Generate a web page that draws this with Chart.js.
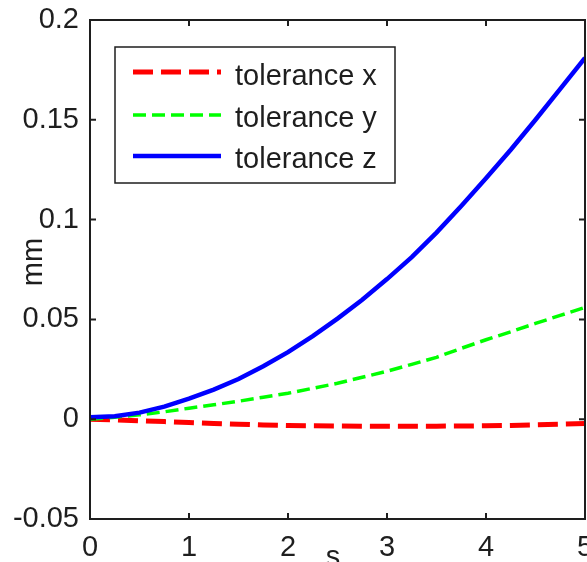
<!DOCTYPE html>
<html lang="en">
<head>
  <meta charset="UTF-8">
  <title>Tolerance</title>
  <script src="https://cdn.jsdelivr.net/npm/chart.js"></script>
  <style>
    html, body {
      margin: 0;
      padding: 0;
      background: white;
      overflow: hidden;
    }
    #wrap {
      width: 587px;
      height: 562px;
    }
  </style>
</head>
<body>
  <div id="wrap"><canvas id="grafico" width="587" height="562"></canvas></div>
  <script>
    // time (s)
    const tempos = [0, 0.25, 0.5, 0.75, 1, 1.25, 1.5, 1.75, 2, 2.25, 2.5, 2.75, 3, 3.25, 3.5, 3.75, 4, 4.25, 4.5, 4.75, 5];
    // tolerance values (mm)
    const tolX = [0, -0.0003, -0.0008, -0.0012, -0.0017, -0.0021, -0.0025, -0.0029, -0.0032, -0.0033, -0.0034, -0.0035, -0.0035, -0.0035, -0.0035, -0.0034, -0.0033, -0.0031, -0.0028, -0.0025, -0.0022];
    const tolY = [0, 0.001, 0.0022, 0.0037, 0.0055, 0.0072, 0.009, 0.011, 0.013, 0.0155, 0.018, 0.021, 0.024, 0.0275, 0.031, 0.0355, 0.0398, 0.0438, 0.048, 0.052, 0.056];
    const tolZ = [0.001, 0.0015, 0.0033, 0.0063, 0.0103, 0.0148, 0.0201, 0.0265, 0.0336, 0.0416, 0.0504, 0.0598, 0.0702, 0.0812, 0.0935, 0.1068, 0.1207, 0.135, 0.150, 0.1655, 0.181];
    const nomes = ["tolerance x", "tolerance y", "tolerance z"];
    const xTicks = [0, 1, 2, 3, 4, 5];
    const yTicks = [-0.05, 0, 0.05, 0.1, 0.15, 0.2];

    const fonte = "'Liberation Sans', Arial, Helvetica, sans-serif";
    const tinta = "#1e1e1e";

    function pontos(vals) {
      return tempos.map((t, i) => ({ x: t, y: vals[i] }));
    }

    // frame with inward ticks on all four sides, legend box and axis titles
    const molduraPlugin = {
      id: "moldura",
      afterDraw(chart) {
        const ctx = chart.ctx;
        const a = chart.chartArea;
        const sx = chart.scales.x;
        const sy = chart.scales.y;
        ctx.save();
        ctx.strokeStyle = tinta;
        ctx.lineWidth = 2;
        ctx.strokeRect(a.left, a.top, a.right - a.left, a.bottom - a.top);
        ctx.beginPath();
        xTicks.forEach(v => {
          const px = sx.getPixelForValue(v);
          ctx.moveTo(px, a.bottom); ctx.lineTo(px, a.bottom - 6);
          ctx.moveTo(px, a.top); ctx.lineTo(px, a.top + 6);
        });
        yTicks.forEach(v => {
          const py = sy.getPixelForValue(v);
          ctx.moveTo(a.left, py); ctx.lineTo(a.left + 6, py);
          ctx.moveTo(a.right, py); ctx.lineTo(a.right - 6, py);
        });
        ctx.stroke();

        // legend
        ctx.fillStyle = "white";
        ctx.fillRect(115, 47, 280, 136);
        ctx.lineWidth = 1.5;
        ctx.strokeRect(115, 47, 280, 136);
        const linhasY = [72, 115, 156];
        const baseY = [85, 127, 168];
        chart.data.datasets.forEach((ds, i) => {
          ctx.beginPath();
          ctx.strokeStyle = ds.borderColor;
          ctx.lineWidth = ds.borderWidth;
          ctx.setLineDash(ds.borderDash || []);
          ctx.moveTo(133, linhasY[i]);
          ctx.lineTo(221, linhasY[i]);
          ctx.stroke();
          ctx.setLineDash([]);
          ctx.fillStyle = tinta;
          ctx.font = "29px " + fonte;
          ctx.textAlign = "left";
          ctx.textBaseline = "alphabetic";
          ctx.fillText(ds.label, 235, baseY[i]);
        });

        // axis titles
        ctx.fillStyle = tinta;
        ctx.font = "29px " + fonte;
        ctx.textAlign = "center";
        ctx.textBaseline = "alphabetic";
        ctx.fillText("s", 333, 566);
        ctx.translate(42, 262);
        ctx.rotate(-Math.PI / 2);
        ctx.fillText("mm", 0, 0);
        ctx.restore();
      }
    };

    Chart.defaults.font.family = fonte;
    Chart.defaults.font.size = 29;
    Chart.defaults.color = tinta;

    new Chart(document.getElementById("grafico"), {
      type: "line",
      data: {
        datasets: [
          {
            label: nomes[0],
            data: pontos(tolX),
            borderColor: "#ff0000",
            borderWidth: 5,
            borderDash: [20, 8],
            order: 2
          },
          {
            label: nomes[1],
            data: pontos(tolY),
            borderColor: "#00ff00",
            borderWidth: 3.5,
            borderDash: [13, 6],
            order: 1
          },
          {
            label: nomes[2],
            data: pontos(tolZ),
            borderColor: "#0000ff",
            borderWidth: 4.5,
            order: 0
          }
        ]
      },
      options: {
        responsive: false,
        animation: false,
        events: [],
        layout: { padding: { left: 0, right: 2, top: 20, bottom: 0 } },
        elements: { point: { radius: 0 }, line: { tension: 0, fill: false } },
        plugins: {
          legend: { display: false },
          tooltip: { enabled: false }
        },
        scales: {
          x: {
            type: "linear",
            min: 0,
            max: 5,
            grid: { display: false, drawTicks: false },
            border: { display: false },
            afterBuildTicks(s) { s.ticks = xTicks.map(v => ({ value: v })); },
            ticks: { padding: 12, maxRotation: 0, autoSkip: false },
            afterFit(s) { s.height = 43; s.paddingLeft = 0; s.paddingRight = 0; }
          },
          y: {
            min: -0.05,
            max: 0.2,
            grid: { display: false, drawTicks: false },
            border: { display: false },
            afterBuildTicks(s) { s.ticks = yTicks.map(v => ({ value: v })); },
            ticks: {
              padding: 11,
              callback: v => String(Number(v.toFixed(2)))
            },
            afterFit(s) { s.width = 90; s.paddingTop = 0; s.paddingBottom = 0; }
          }
        }
      },
      plugins: [molduraPlugin]
    });
  </script>
</body>
</html>
